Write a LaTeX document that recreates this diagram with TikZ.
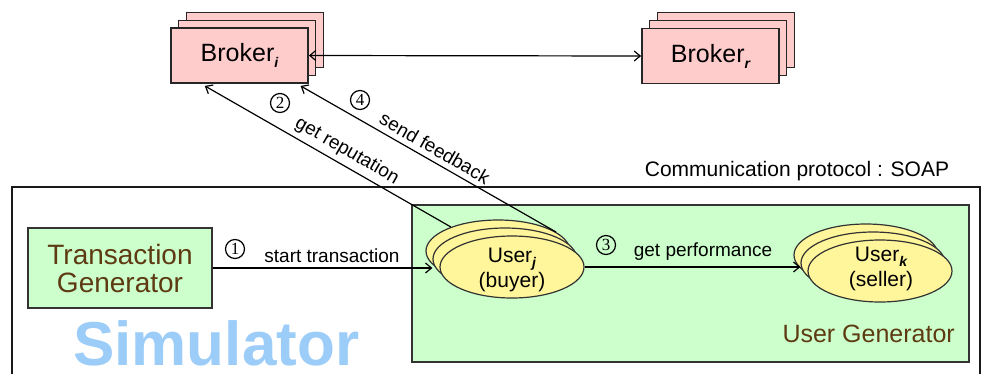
\documentclass[tikz,border=0pt]{standalone}
\usepackage{fontspec}
\setmainfont{Liberation Sans}
\newfontfamily\digitfont{Liberation Serif}
\usetikzlibrary{arrows.meta,shapes.geometric,calc}

\definecolor{brokerfill}{HTML}{FFCCCC}
\definecolor{genfill}{HTML}{CCFFCC}
\definecolor{userfill}{HTML}{FFF59A}
\definecolor{simblue}{HTML}{9CCCF8}
\definecolor{genbrown}{HTML}{5E3A12}

% small bold italic index set below the baseline
\newcommand\lowidx[1]{\raisebox{-0.45ex}{\fontsize{14}{14}\selectfont\bfseries\itshape #1}}

\begin{document}
\begin{tikzpicture}[x=1pt,y=-1pt,
  frame/.style={draw=black!90,line width=1.5pt},
  genbox/.style={draw=black!80,line width=1.4pt,fill=genfill,inner sep=0pt},
  brokerbox/.style={draw=black!85,line width=1.8pt,fill=brokerfill,
    minimum width=137pt,minimum height=55pt,inner sep=0pt,
    font=\fontsize{25}{28}\selectfont},
  userell/.style={ellipse,draw=black!80,line width=1.2pt,fill=userfill,
    minimum width=144pt,minimum height=62pt,inner sep=0pt},
  usertext/.style={align=center,inner sep=0pt,
    font=\fontsize{21}{25}\selectfont},
  link/.style={line width=1.2pt,-{Straight Barb[length=6pt,width=10pt,line width=1.2pt]}},
  duallink/.style={line width=1.2pt,{Straight Barb[length=6pt,width=10pt,line width=1.2pt]}-{Straight Barb[length=6pt,width=10pt,line width=1.2pt]}},
  stepnum/.style={circle,draw,line width=1.2pt,minimum size=19pt,inner sep=0pt,
    font=\digitfont\fontsize{17}{17}\selectfont},
  lbl/.style={inner sep=0pt,font=\fontsize{19}{22}\selectfont}]
\useasboundingbox (0,0) rectangle (989,373);
\clip (0,0) rectangle (989,373);

% simulator frame (open at the bottom edge)
\draw[frame] (12,390) -- (12,187) -- (980,187) -- (980,390);
\node[anchor=base, inner sep=0pt, font=\fontsize{21}{24}\selectfont] (proto) at (797,176) {Communication protocol : SOAP};
\node[anchor=base west, inner sep=0pt, text=simblue, font=\fontsize{62}{64}\selectfont\bfseries] (sim) at (73,365) {Simulator};

% user generator area
\node[genbox, minimum width=557pt, minimum height=157pt] (ug) at (690.5,283.5) {};
\node[anchor=base east, inner sep=0pt, text=genbrown, font=\fontsize{25}{28}\selectfont] (ugl) at (955,342) {User Generator};

% transaction generator
\node[genbox, minimum width=184pt, minimum height=80pt, align=center,
  text=genbrown, font=\fontsize{28}{28}\selectfont] (tg) at (120,268) {Transaction\\Generator};

% brokers
\node[brokerbox] (bi3) at (255,40) {};
\node[brokerbox] (bi2) at (247,48) {};
\node[brokerbox] (bi1) at (239.5,55.5) {Broker\lowidx{i}};
\node[brokerbox] (br3) at (726,40) {};
\node[brokerbox] (br2) at (718,48) {};
\node[brokerbox] (br1) at (710.5,56) {Broker\lowidx{r}};

% users
\node[userell] (uj3) at (498,251) {};
\node[userell] (uj2) at (505,259) {};
\node[userell] (uj1) at (512,267) {};
\node[usertext] (ujt) at (512,270) {User\lowidx{j}\\(buyer)};
\node[userell] (uk3) at (866,255) {};
\node[userell] (uk2) at (873,263) {};
\node[userell] (uk1) at (880,271) {};
\node[usertext] (ukt) at (881,269) {User\lowidx{k}\\(seller)};

% connectors
\draw[duallink] (bi1.east) -- (br1.west);
\draw[link] (tg.east) -- (uj2.west |- tg.east);
\draw[link] (uj1.east) -- (uk2.west |- uj1.east);
\draw[link] (uj3.153) -- ([yshift=-2pt]$(bi1.south west)!0.25!(bi1.south east)$);
\draw[link] (uj3.18) -- ([yshift=-2pt]$(bi1.south west)!0.94!(bi1.south east)$);

% step labels
\node[stepnum] (n1) at (235,249) {1};
\node[stepnum] (n2) at (280,103) {2};
\node[stepnum] (n3) at (606,245) {3};
\node[stepnum] (n4) at (360,100) {4};
\node[lbl, anchor=base] (l1) at (332,262) {start transaction};
\node[lbl, anchor=base] (l3) at (703,256) {get performance};
\node[lbl, rotate=-30] (l2) at (347,151) {get reputation};
\node[lbl, rotate=-30] (l4) at (435,148) {send feedback};
\end{tikzpicture}
\end{document}
